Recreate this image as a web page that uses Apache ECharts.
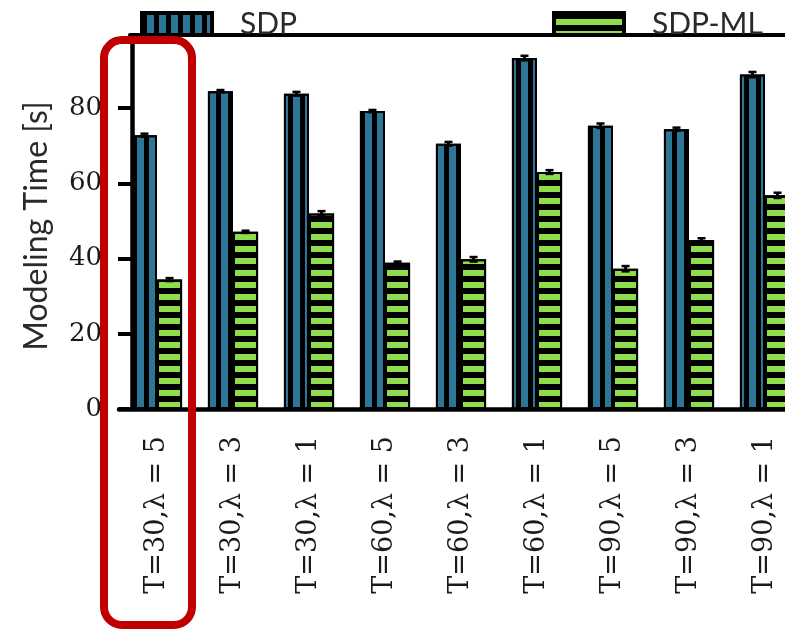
<!DOCTYPE html>
<html><head><meta charset="utf-8">
<script src="https://cdn.jsdelivr.net/npm/echarts@6/dist/echarts.min.js"></script>
<style>html,body{margin:0;padding:0;background:#fff}#c{width:785px;height:630px}</style>
</head><body><div id="c"></div>
<script>
const categories = ['T=30,λ = 5','T=30,λ = 3','T=30,λ = 1','T=60,λ = 5','T=60,λ = 3','T=60,λ = 1','T=90,λ = 5','T=90,λ = 3','T=90,λ = 1'];
const sdp      = [72.8, 84.5, 83.8, 79.2, 70.5, 93.3, 75.3, 74.4, 88.9];
const sdpErr   = [0.4, 0.3, 0.5, 0.3, 0.5, 0.6, 0.6, 0.4, 0.7];
const sdpMl    = [34.4, 47.1, 52.0, 38.9, 39.8, 63.0, 37.3, 44.9, 56.8];
const sdpMlErr = [0.4, 0.3, 0.6, 0.3, 0.6, 0.5, 0.7, 0.5, 0.7];
const yTicks   = [0, 20, 40, 60, 80];
const seriesNames = ['SDP', 'SDP-ML'];

const BAR_FRAC = 0.33;
const BLUE = '#2e7698', GREEN = '#8fdc4c';

function errSeries(vals, errs, sign) {
  return {
    type: 'custom', z: 5, silent: true,
    data: vals.map((v, i) => [i, v - errs[i], v + errs[i]]),
    encode: { x: 0, y: [1, 2] },
    renderItem: function (params, api) {
      const i = api.value(0);
      const lo = api.coord([i, api.value(1)]);
      const hi = api.coord([i, api.value(2)]);
      const band = api.size([1, 0])[0];
      const cx = lo[0] + sign * band * BAR_FRAC / 2;
      const cap = 4;
      return { type: 'group', children: [
        { type: 'line', shape: { x1: cx, y1: lo[1], x2: cx, y2: hi[1] }, style: { stroke: '#000', lineWidth: 3 } },
        { type: 'line', shape: { x1: cx - cap, y1: hi[1], x2: cx + cap, y2: hi[1] }, style: { stroke: '#000', lineWidth: 2.5 } },
        { type: 'line', shape: { x1: cx - cap, y1: lo[1], x2: cx + cap, y2: lo[1] }, style: { stroke: '#000', lineWidth: 2.5 } }
      ]};
    }
  };
}

const chart = echarts.init(document.getElementById('c'), null, { renderer: 'canvas' });
const legendCommon = {
  orient: 'horizontal', top: 9, padding: 0, icon: 'rect',
  itemWidth: 70, itemHeight: 22,
  itemStyle: { borderColor: '#000', borderWidth: 4 },
  textStyle: { fontFamily: 'Lato', fontSize: 30, color: '#2a2a2a', padding: [2, 0, 0, 23] }
};
chart.setOption({
  animation: false,
  backgroundColor: '#fff',
  legend: [
    Object.assign({}, legendCommon, { left: 140, data: [seriesNames[0]] }),
    Object.assign({}, legendCommon, { left: 552, data: [seriesNames[1]] })
  ],
  grid: [
    { left: 119, right: -18, top: 43, bottom: 221, outerBoundsMode: 'none', containLabel: false },
    { left: 130, right: 0, top: 35, height: 1, outerBoundsMode: 'none', containLabel: false }
  ],
  xAxis: [
    {
      type: 'category', data: categories, gridIndex: 0,
      axisLine: { lineStyle: { color: '#000', width: 4.5 } },
      axisTick: { alignWithLabel: true, inside: false, length: 13, lineStyle: { color: '#000', width: 4 } },
      axisLabel: { rotate: 90, interval: 0, margin: 27, fontFamily: 'DejaVu Serif', fontSize: 27, color: '#1a1a1a' },
      splitLine: { show: false }
    },
    {
      type: 'value', gridIndex: 1, position: 'top', min: 0, max: 1,
      axisLine: { show: true, onZero: false, lineStyle: { color: '#000', width: 4 } },
      axisTick: { show: false }, axisLabel: { show: false }, splitLine: { show: false }
    }
  ],
  yAxis: [
    {
      type: 'value', gridIndex: 0, min: 0, max: 97.3, interval: 20, offset: -13,
      name: 'Modeling Time [s]', nameLocation: 'middle', nameGap: 79, nameRotate: 90,
      nameTextStyle: { fontFamily: 'Lato', fontSize: 32, color: '#2a2a2a' },
      axisLine: { show: true, lineStyle: { color: '#000', width: 4.5 } },
      axisTick: { show: true, inside: false, length: 14, lineStyle: { color: '#000', width: 4 }, customValues: yTicks },
      axisLabel: { margin: 30, fontFamily: 'DejaVu Serif', fontSize: 26, color: '#1a1a1a', showMaxLabel: false },
      splitLine: { show: false }
    },
    { type: 'value', gridIndex: 1, show: false, min: 0, max: 1 }
  ],
  series: [
    {
      name: seriesNames[0], type: 'bar', data: sdp, barWidth: (BAR_FRAC * 100) + '%', barGap: '0%',
      itemStyle: {
        color: BLUE, borderColor: '#000', borderWidth: 2,
        decal: { symbol: 'rect', symbolSize: 1, color: '#000', dashArrayX: [5, 7], dashArrayY: [1, 0] }
      }
    },
    {
      name: seriesNames[1], type: 'bar', data: sdpMl, barWidth: (BAR_FRAC * 100) + '%', barGap: '0%',
      itemStyle: {
        color: GREEN, borderColor: '#000', borderWidth: 2,
        decal: { symbol: 'rect', symbolSize: 1, color: '#000', dashArrayX: [1, 0], dashArrayY: [6, 6] }
      }
    },
    errSeries(sdp, sdpErr, -1),
    errSeries(sdpMl, sdpMlErr, 1)
  ],
  graphic: [
    { type: 'rect', z: 100, silent: true,
      shape: { x: 104, y: 40, width: 88, height: 585, r: 18 },
      style: { fill: null, stroke: '#c00000', lineWidth: 8 } }
  ]
});
</script>
</body></html>
